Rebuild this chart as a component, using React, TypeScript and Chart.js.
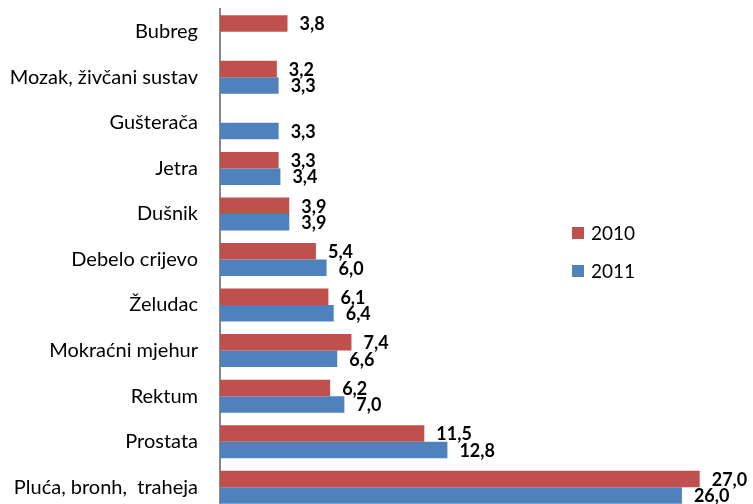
import React, { useEffect, useRef } from "react";
import { Chart, registerables } from "chart.js";

Chart.register(...registerables);

const categories = [
  "Bubreg",
  "Mozak, živčani sustav",
  "Gušterača",
  "Jetra",
  "Dušnik",
  "Debelo crijevo",
  "Želudac",
  "Mokraćni mjehur",
  "Rektum",
  "Prostata",
  "Pluća, bronh,  traheja",
];
const values2010: (number | null)[] = [3.8, 3.2, null, 3.3, 3.9, 5.4, 6.1, 7.4, 6.2, 11.5, 27.0];
const values2011: (number | null)[] = [null, 3.3, 3.3, 3.4, 3.9, 6.0, 6.4, 6.6, 7.0, 12.8, 26.0];
const seriesNames = ["2010", "2011"];
const colors = ["#C0504D", "#4F81BD"];

const FONT = "Lato, 'Liberation Sans', sans-serif";

const labelPlugin = {
  id: "valueLabels",
  afterDatasetsDraw(chart: any) {
    const ctx = chart.ctx;
    ctx.save();
    ctx.font = `bold 18px ${FONT}`;
    ctx.fillStyle = "#000";
    ctx.textBaseline = "middle";
    ctx.textAlign = "left";
    chart.data.datasets.forEach((ds: any, di: number) => {
      const meta = chart.getDatasetMeta(di);
      meta.data.forEach((el: any, i: number) => {
        const v = ds.data[i];
        if (v === null || v === undefined) return;
        const txt = v.toFixed(1).replace(".", ",");
        ctx.fillText(txt, el.x + 12, el.y + 1);
      });
    });
    ctx.restore();
  },
};

const legendPlugin = {
  id: "customLegend",
  afterDraw(chart: any) {
    const ctx = chart.ctx;
    ctx.save();
    ctx.font = `19px ${FONT}`;
    ctx.textBaseline = "middle";
    ctx.textAlign = "left";
    const x = 572;
    const ys = [233, 271];
    seriesNames.forEach((name, i) => {
      ctx.fillStyle = colors[i];
      ctx.fillRect(x, ys[i] - 6, 12, 12);
      ctx.fillStyle = "#000";
      ctx.fillText(name, x + 19, ys[i] + 1);
    });
    ctx.restore();
  },
};

export default function App() {
  const ref = useRef<HTMLCanvasElement | null>(null);
  useEffect(() => {
    if (!ref.current) return;
    const chart = new Chart(ref.current, {
      type: "bar",
      data: {
        labels: categories,
        datasets: seriesNames.map((n, i) => ({
          label: n,
          data: i === 0 ? values2010 : values2011,
          backgroundColor: colors[i],
          borderWidth: 0,
          barPercentage: 1,
          categoryPercentage: 0.725,
        })),
      },
      options: {
        indexAxis: "y",
        animation: false,
        responsive: false,
        maintainAspectRatio: false,
        layout: { padding: { top: 9, right: 0, bottom: 0, left: 0 } },
        plugins: { legend: { display: false }, tooltip: { enabled: false } },
        scales: {
          x: { display: false, min: 0, max: 30 },
          y: {
            grid: { display: false, drawTicks: false },
            border: { display: true, color: "#888888", width: 2 },
            ticks: {
              color: "#000",
              font: { family: FONT, size: 20 },
              padding: 22,
            },
            afterFit(scale: any) {
              scale.width = 220;
              scale.paddingTop = 0;
              scale.paddingBottom = 0;
            },
          },
        },
      },
      plugins: [labelPlugin, legendPlugin],
    });
    return () => chart.destroy();
  }, []);
  return (
    <div style={{ position: "fixed", left: 0, top: 0, width: 753, height: 504, overflow: "hidden", background: "#fff" }}>
      <canvas ref={ref} width={753} height={510} style={{ display: "block" }} />
    </div>
  );
}
